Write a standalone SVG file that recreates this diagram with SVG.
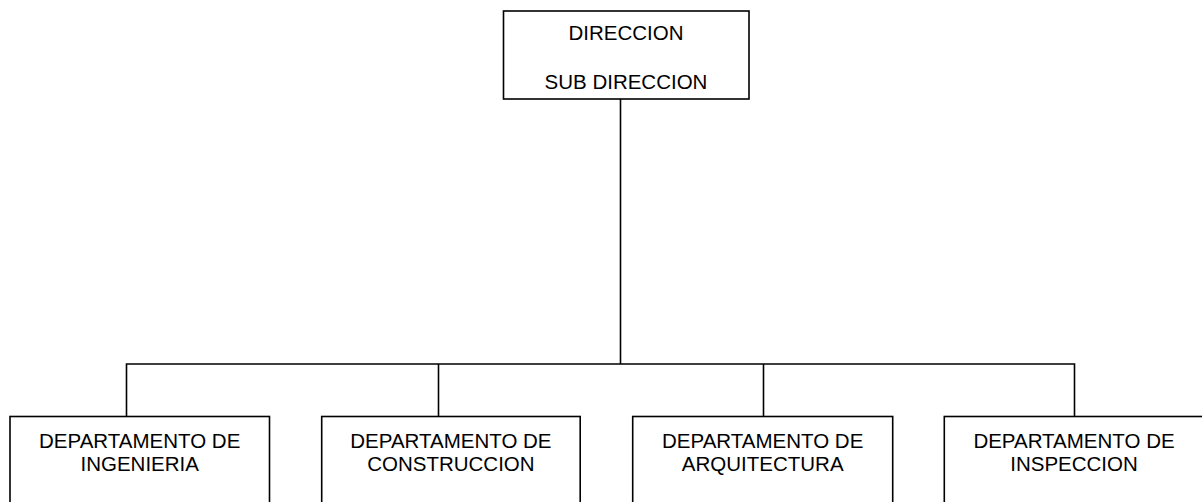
<svg xmlns="http://www.w3.org/2000/svg" width="1202" height="502" viewBox="0 0 1202 502">
<style>
.box{fill:#fff;stroke:#000;stroke-width:1.6}
.ln{fill:none;stroke:#000;stroke-width:1.6}
text{font-family:"Liberation Sans",Arial,sans-serif;font-size:20.5px;fill:#000;text-anchor:middle}
</style>
<rect width="1202" height="502" fill="#fff"/>
<g id="connectors">
<path class="ln" d="M620.5,99 V364"/>
<path class="ln" d="M126.5,416.5 V364 H1074.5 V416.5"/>
<path class="ln" d="M438.5,364 V416.5"/>
<path class="ln" d="M763.5,364 V416.5"/>
</g>
<g id="direccion">
<rect class="box" x="503.5" y="11" width="245.5" height="88"/>
<text x="626" y="39.5">DIRECCION</text>
<text x="626" y="88.5">SUB DIRECCION</text>
</g>
<g id="ingenieria">
<rect class="box" x="10" y="416.5" width="259.5" height="110"/>
<text x="139.7" y="447.5">DEPARTAMENTO DE</text>
<text x="139.7" y="470.5">INGENIERIA</text>
</g>
<g id="construccion">
<rect class="box" x="321.7" y="416.5" width="258.5" height="110"/>
<text x="450.9" y="447.5">DEPARTAMENTO DE</text>
<text x="450.9" y="470.5">CONSTRUCCION</text>
</g>
<g id="arquitectura">
<rect class="box" x="632.7" y="416.5" width="260" height="110"/>
<text x="762.7" y="447.5">DEPARTAMENTO DE</text>
<text x="762.7" y="470.5">ARQUITECTURA</text>
</g>
<g id="inspeccion">
<rect class="box" x="944.3" y="416.5" width="259.5" height="110"/>
<text x="1074" y="447.5">DEPARTAMENTO DE</text>
<text x="1074" y="470.5">INSPECCION</text>
</g>
</svg>
